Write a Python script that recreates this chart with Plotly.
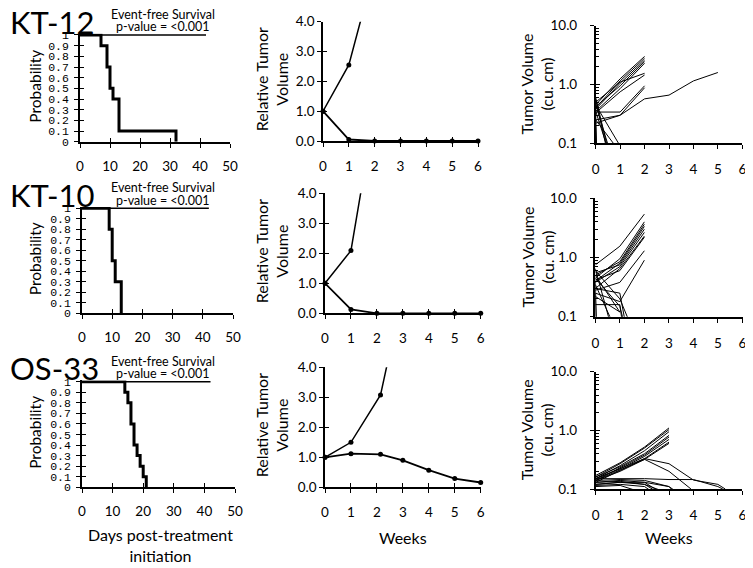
import plotly.graph_objects as go

# The page body keeps an 8px margin, so the figure is drawn 8px in and 8px smaller.
OFF = 8
W, H = 753 - OFF, 568 - OFF
FONT = "Lato"

# ---------------- data ----------------
rows = ["KT-12", "KT-10", "OS-33"]

# Kaplan-Meier (days, probability)
km_ctrl_days = [[0, 42], [0, 42], [0, 42]]
km_ctrl_prob = [[1, 1], [1, 1], [1, 1]]
km_trt_days = [
    [0, 7, 9, 10, 11, 13, 32],
    [0, 9, 10, 11, 13],
    [0, 14, 15, 16, 17, 18, 19, 20, 21],
]
km_trt_prob = [
    [1, 0.9, 0.7, 0.5, 0.4, 0.1, 0],
    [1, 0.8, 0.5, 0.3, 0],
    [1, 0.9, 0.8, 0.6, 0.4, 0.3, 0.2, 0.1, 0],
]

# Relative tumor volume (weeks, RTV)
rtv_ctrl_weeks = [[0, 1, 2], [0, 1, 2], [0, 1, 2.14, 3]]
rtv_ctrl_vals = [[1, 2.55, 5.8], [1, 2.09, 7.2], [1, 1.5, 3.08, 6.5]]
rtv_trt_weeks = [[0, 1, 2, 3, 4, 5, 6], [0, 1, 2, 3, 4, 5, 6], [0, 1, 2.14, 3, 4, 5, 6]]
rtv_trt_vals = [
    [1, 0.05, 0, 0, 0, 0, 0],
    [1, 0.13, 0, 0, 0, 0, 0],
    [1, 1.12, 1.1, 0.9, 0.57, 0.29, 0.16],
]

# Individual tumor volumes (weeks, cu. cm)
kt12_weeks = [
    [0, 1, 2], [0, 1, 2], [0, 1, 2], [0, 1, 2], [0, 1, 2], [0, 1, 2], [0, 1, 2],
    [0, 1, 2], [0, 1, 2], [0, 1, 2, 3, 4, 5],
    [0, 0.5], [0, 0.6], [0, 0.5], [0, 1], [0, 0.1], [0, 0.1], [0, 0.45], [0, 0.9],
]
kt12_vols = [
    [0.45, 1.25, 3.0], [0.40, 1.15, 2.8], [0.38, 1.05, 2.6], [0.42, 0.95, 2.45],
    [0.35, 0.85, 2.3], [0.50, 1.10, 1.55], [0.33, 0.75, 1.45], [0.34, 0.34, 0.95],
    [0.25, 0.30, 0.88], [0.22, 0.30, 0.57, 0.66, 1.15, 1.6],
    [0.6, 0.08], [0.45, 0.07], [0.35, 0.08], [0.45, 0.09], [0.3, 0.01], [0.2, 0.01],
    [0.55, 0.08], [0.25, 0.08],
]
kt10_weeks = [
    [0, 1, 2], [0, 1, 2], [0, 1, 2], [0, 1, 2], [0, 1, 2], [0, 1, 2], [0, 1, 2],
    [0, 1, 2], [0, 1, 2], [0, 1, 2],
    [0, 1, 1.4], [0, 1], [0, 1, 1.2], [0, 0.7], [0, 0.6], [0, 1, 1.1], [0, 1],
    [0, 0.1], [0, 0.1], [0, 1, 1.2],
]
kt10_vols = [
    [0.75, 1.55, 5.4], [0.45, 0.95, 4.0], [0.50, 0.85, 3.65], [0.40, 0.80, 3.35],
    [0.55, 0.75, 3.0], [0.38, 0.70, 2.65], [0.30, 0.65, 2.3], [0.42, 0.60, 2.2],
    [0.28, 0.38, 1.3], [0.25, 0.18, 0.9],
    [0.6, 0.2, 0.08], [0.5, 0.12], [0.45, 0.15, 0.07], [0.35, 0.08], [0.65, 0.08],
    [0.16, 0.16, 0.08], [0.22, 0.12], [0.4, 0.01], [0.25, 0.01], [0.3, 0.25, 0.09],
]
os33_weeks = [
    [0, 1, 2, 3], [0, 1, 2, 3], [0, 1, 2, 3], [0, 1, 2, 3], [0, 1, 2, 3],
    [0, 1, 2, 3], [0, 1, 2, 3], [0, 1, 2, 3],
    [0, 1, 2, 3, 4, 5, 5.3], [0, 1, 2, 3, 3.9], [0, 1, 2, 3, 4, 5, 5.2],
    [0, 1, 2, 2.6], [0, 1, 2, 3, 3.2], [0, 1, 2, 2.5], [0, 1, 2, 2.8],
    [0, 1, 2, 3, 3.3], [0, 1, 2, 2.3], [0, 1, 1.8],
]
os33_vols = [
    [0.17, 0.28, 0.52, 1.1], [0.16, 0.27, 0.50, 1.03], [0.15, 0.25, 0.45, 0.95],
    [0.16, 0.24, 0.40, 0.82], [0.14, 0.23, 0.38, 0.77], [0.15, 0.22, 0.36, 0.70],
    [0.13, 0.21, 0.33, 0.63], [0.14, 0.20, 0.32, 0.60],
    [0.15, 0.22, 0.33, 0.27, 0.142, 0.12, 0.1], [0.14, 0.21, 0.32, 0.20, 0.1],
    [0.15, 0.15, 0.15, 0.145, 0.145, 0.11, 0.1],
    [0.13, 0.14, 0.13, 0.09], [0.14, 0.145, 0.14, 0.11, 0.09], [0.12, 0.13, 0.12, 0.09],
    [0.13, 0.135, 0.12, 0.09], [0.12, 0.13, 0.13, 0.11, 0.09], [0.115, 0.12, 0.11, 0.09],
    [0.11, 0.115, 0.09],
]
tv_weeks = [kt12_weeks, kt10_weeks, os33_weeks]
tv_vols = [kt12_vols, kt10_vols, os33_vols]

km_xticks = [0, 10, 20, 30, 40, 50]
km_yticks = [0, 0.1, 0.2, 0.3, 0.4, 0.5, 0.6, 0.7, 0.8, 0.9, 1]
km_yticktext = ["0", "0.1", "0.2", "0.3", "0.4", "0.5", "0.6", "0.7", "0.8", "0.9", "1"]
week_ticks = [0, 1, 2, 3, 4, 5, 6]
rtv_yticks = [0, 1, 2, 3, 4]
rtv_yticktext = ["0.0", "1.0", "2.0", "3.0", "4.0"]
tv_yticks = [0.1, 1, 10]
tv_yticktext = ["0.1", "1.0", "10.0"]
tv_minor = [0.2, 0.3, 0.4, 0.5, 0.6, 0.7, 0.8, 0.9, 2, 3, 4, 5, 6, 7, 8, 9]

# ---------------- layout geometry (window pixels) ----------------
km_box = [(80, 230, 33.7, 141.7), (82, 233, 207.0, 313.3), (82, 235, 380.4, 487.3)]
rtv_box = [(323, 478, 21.7, 141.0), (325, 480.7, 193.3, 313.3), (325, 480.7, 367.3, 487.3)]
tv_box = [(595.7, 742.3, 25.7, 143.3), (595.3, 742.5, 198.3, 316.7), (595.7, 742.3, 371.7, 489.0)]


def px(a):
    return (a - OFF) / W


def py(a):
    return 1 - (a - OFF) / H


def xd(a, b):
    return [px(a), px(b)]


def yd(top, bottom):
    return [py(bottom), py(top)]


fig = go.Figure()
layout = dict(
    width=W, height=H, margin=dict(l=0, r=0, t=0, b=0, autoexpand=False),
    paper_bgcolor="white", plot_bgcolor="white", showlegend=False,
    font=dict(family=FONT, color="black"),
)
annotations = []


def ax_name(kind, n):
    return f"{kind}axis" if n == 1 else f"{kind}axis{n}"


def ref(kind, n):
    return kind if n == 1 else f"{kind}{n}"


def make_panel(n, box, xrange, yrange, ytype, xt, xtt, yt, ytt, xfont, yfont,
               xcross, ycross, xstand, ystand, yminor=None):
    x0, x1, t, b = box
    base = dict(showgrid=False, zeroline=False, linecolor="black", tickcolor="black",
                tickwidth=1.3, fixedrange=True, automargin=False)
    layout[ax_name("x", n)] = dict(base, domain=xd(x0, x1), range=xrange, anchor=ref("y", n),
                                   showline=True, linewidth=1.6, ticks="outside", ticklen=4,
                                   tickmode="array", tickvals=xt, ticktext=xtt,
                                   tickfont=xfont, ticklabelstandoff=xstand)
    layout[ax_name("y", n)] = dict(base, domain=yd(t, b), range=yrange, type=ytype,
                                   anchor=ref("x", n), showline=True, linewidth=1.6,
                                   ticks="outside", ticklen=4, tickmode="array",
                                   tickvals=yt, ticktext=ytt, tickfont=yfont,
                                   ticklabelstandoff=ystand)
    m = n + 9
    if xcross:
        layout[ax_name("x", m)] = dict(base, overlaying=ref("x", n), anchor=ref("y", n),
                                       range=xrange, side="bottom", showline=False,
                                       ticks="inside", ticklen=4, tickmode="array",
                                       tickvals=xt, showticklabels=False)
        fig.add_trace(go.Scatter(x=[], y=[], xaxis=ref("x", m), yaxis=ref("y", n),
                                 hoverinfo="skip"))
    if ycross:
        yo = dict(base, overlaying=ref("y", n), anchor=ref("x", n), range=yrange,
                  type=ytype, side="left", showline=False, ticks="inside", ticklen=4,
                  tickmode="array", tickvals=yt, showticklabels=False)
        if yminor:
            yo["minor"] = dict(tickmode="array", tickvals=yminor, ticks="inside",
                               ticklen=3, tickcolor="black", tickwidth=1)
        layout[ax_name("y", m)] = yo
        fig.add_trace(go.Scatter(x=[], y=[], xaxis=ref("x", n), yaxis=ref("y", m),
                                 hoverinfo="skip"))


tickf = dict(family=FONT, size=13.5, color="black")
monof = dict(family="Liberation Mono", size=11.5, color="black")

for r in range(3):
    # --- KM panel ---
    n = 3 * r + 1
    make_panel(n, km_box[r], [0, 50], [0, 1.012], "linear", km_xticks,
               [str(v) for v in km_xticks], km_yticks, km_yticktext, tickf, monof,
               True, True, 7, 3)
    fig.add_trace(go.Scatter(x=km_ctrl_days[r], y=km_ctrl_prob[r], mode="lines",
                             line=dict(color="black", width=1.5, shape="hv"),
                             xaxis=ref("x", n), yaxis=ref("y", n)))
    fig.add_trace(go.Scatter(x=km_trt_days[r], y=km_trt_prob[r], mode="lines",
                             line=dict(color="black", width=3, shape="hv"),
                             xaxis=ref("x", n), yaxis=ref("y", n)))
    # --- RTV panel ---
    n = 3 * r + 2
    make_panel(n, rtv_box[r], [0, 6], [0, 4], "linear", week_ticks,
               [str(v) for v in week_ticks], rtv_yticks, rtv_yticktext, tickf, tickf,
               True, True, 8, 0)
    fig.add_trace(go.Scatter(x=rtv_ctrl_weeks[r], y=rtv_ctrl_vals[r], mode="lines+markers",
                             line=dict(color="black", width=1.5),
                             marker=dict(color="black", size=5),
                             xaxis=ref("x", n), yaxis=ref("y", n)))
    fig.add_trace(go.Scatter(x=rtv_trt_weeks[r], y=rtv_trt_vals[r], mode="lines+markers",
                             line=dict(color="black", width=1.8),
                             marker=dict(color="black", size=5), cliponaxis=False,
                             xaxis=ref("x", n), yaxis=ref("y", n)))
    # --- Tumor volume panel ---
    n = 3 * r + 3
    make_panel(n, tv_box[r], [0, 6], [-1, 1], "log", week_ticks,
               [str(v) for v in week_ticks], tv_yticks, tv_yticktext, tickf, tickf,
               False, True, 9, 10, yminor=tv_minor)
    for wk, vv in zip(tv_weeks[r], tv_vols[r]):
        fig.add_trace(go.Scatter(x=wk, y=vv, mode="lines",
                                 line=dict(color="black", width=1),
                                 xaxis=ref("x", n), yaxis=ref("y", n)))


def ann(text, x, y, size, angle=0, xanchor="center", yanchor="middle"):
    annotations.append(dict(text=text, x=px(x), y=py(y), xref="paper", yref="paper",
                            showarrow=False, textangle=angle, xanchor=xanchor,
                            yanchor=yanchor, font=dict(family=FONT, size=size, color="black")))


row_off = [0, 173.3, 346.7]
for r in range(3):
    o = row_off[r]
    ann(rows[r], 8, 21.5 + o, 31, xanchor="left")
    ann("Event-free Survival", 163, 14.5 + o, 12.5)
    ann("p-value = &lt;0.001", 163, 27 + o, 12.5)
    kb = km_box[r]
    ann("Probability", 35, (kb[2] + kb[3]) / 2 - 1, 15.5, angle=-90)
    rb = rtv_box[r]
    ann("Relative Tumor<br>Volume", 272, (rb[2] + rb[3]) / 2 - 2, 16, angle=-90)
    tb = tv_box[r]
    ann("Tumor Volume<br>(cu. cm)", 537, (tb[2] + tb[3]) / 2, 16, angle=-90)

ann("Days post-treatment<br>initiation", 160, 545, 16)
ann("Weeks", 403, 537, 16)
ann("Weeks", 669, 537, 16)

layout["annotations"] = annotations
fig.update_layout(**layout)
fig.write_html("out.html")
